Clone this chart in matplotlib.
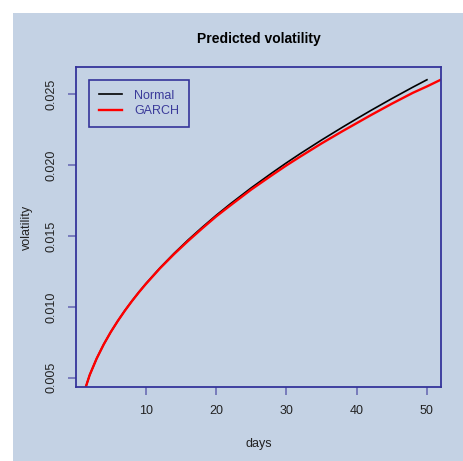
import matplotlib
matplotlib.use("Agg")
import matplotlib.pyplot as plt
from matplotlib.patches import Rectangle

plt.rcParams["font.family"] = ["Liberation Sans", "DejaVu Sans"]

# values
days_normal = [1, 2, 3, 4, 5, 6, 7, 8, 9, 10, 12, 14, 16, 18, 20, 22, 25, 28,
               30, 32, 35, 38, 40, 42, 45, 48, 50]
vol_normal = [0.00368, 0.00520, 0.00637, 0.00736, 0.00823, 0.00901, 0.00974,
              0.01041, 0.01104, 0.01164, 0.01275, 0.01377, 0.01472, 0.01561,
              0.01646, 0.01726, 0.01840, 0.01947, 0.02016, 0.02082, 0.02177,
              0.02268, 0.02327, 0.02385, 0.02469, 0.02550, 0.02602]

days_garch = [1, 2, 3, 4, 5, 6, 7, 8, 9, 10, 12, 14, 16, 18, 20, 22, 25, 28,
              30, 32, 35, 38, 40, 42, 45, 48, 50, 52]
vol_garch = [0.00368, 0.00520, 0.00637, 0.00736, 0.00823, 0.00901, 0.00973,
             0.01040, 0.01103, 0.01162, 0.01272, 0.01372, 0.01465, 0.01553,
             0.01638, 0.01715, 0.01828, 0.01931, 0.01998, 0.02061, 0.02153,
             0.02240, 0.02296, 0.02352, 0.02433, 0.02510, 0.02555, 0.02603]

x_ticks = [10, 20, 30, 40, 50]
y_ticks = [0.005, 0.010, 0.015, 0.020, 0.025]
y_tick_labels = ["0.005", "0.010", "0.015", "0.020", "0.025"]

bg = "#c4d2e4"
border = "#34349a"
tick_col = "#6a6cb4"

fig = plt.figure(figsize=(4.64, 4.61), dpi=100)
fig.patch.set_facecolor("white")
fig.patches.append(Rectangle((13 / 464, 0), 1, (461 - 13) / 461,
                             transform=fig.transFigure, facecolor=bg,
                             edgecolor="none", zorder=-10))

ax = fig.add_axes([76 / 464, 1 - 387 / 461, 365 / 464, 320 / 461])
ax.set_facecolor(bg)

ax.plot(days_normal, vol_normal, color="black", lw=1.2, label="Normal")
ax.plot(days_garch, vol_garch, color="red", lw=1.7, label="GARCH")

ax.set_xlim(0.05, 52.0)
ax.set_ylim(0.00435, 0.02692)
ax.set_xticks(x_ticks)
ax.set_yticks(y_ticks)
ax.set_yticklabels(y_tick_labels, rotation=90, va="center")

for s in ax.spines.values():
    s.set_color(border)
    s.set_linewidth(1.3)
ax.tick_params(axis="both", direction="out", length=5.5, width=1.2,
               color=tick_col, labelsize=9, labelcolor="#222222", pad=7.5)

ax.set_title("Predicted volatility", fontsize=10, fontweight="bold", pad=17)
ax.set_xlabel("days", fontsize=9, color="#222222", labelpad=15)
ax.set_ylabel("volatility", fontsize=9, color="#222222", labelpad=9)

leg = ax.legend(loc="upper left", bbox_to_anchor=(0.0356, 0.959),
                borderaxespad=0, fancybox=False, fontsize=9,
                handlelength=1.9, handletextpad=0.95, labelspacing=0.25,
                borderpad=0.78, facecolor=bg, edgecolor=border, framealpha=1)
leg.get_frame().set_linewidth(1.2)
for t in leg.get_texts():
    t.set_color("#3a3a9a")

fig.savefig("out.png", dpi=100)
